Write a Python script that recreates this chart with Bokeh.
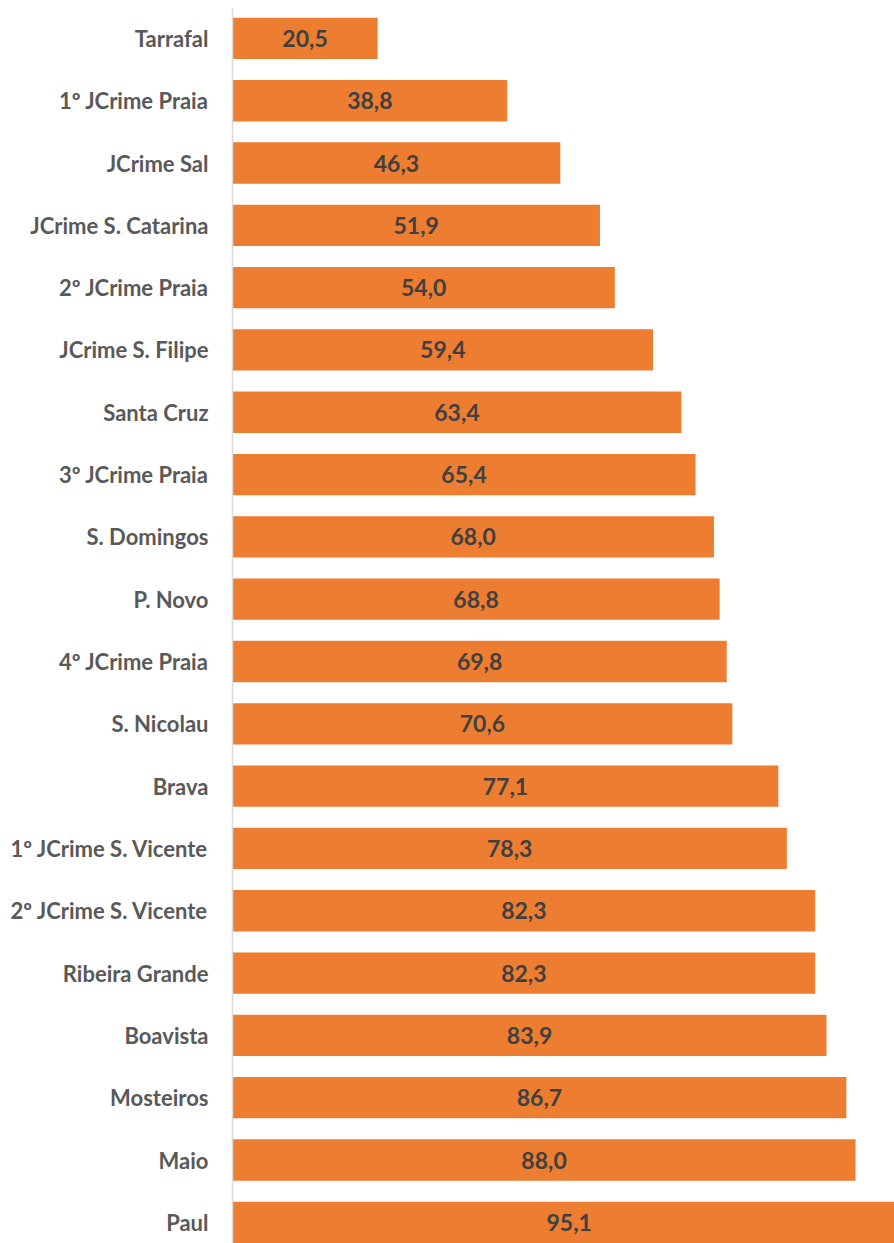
from bokeh.plotting import figure
from bokeh.models import ColumnDataSource, Range1d, FixedTicker
from bokeh.core.properties import value
from bokeh.embed import file_html
from bokeh.resources import INLINE

categories = ["Tarrafal", "1º JCrime Praia", "JCrime Sal", "JCrime S. Catarina",
              "2º JCrime Praia", "JCrime S. Filipe", "Santa Cruz", "3º JCrime Praia",
              "S. Domingos", "P. Novo", "4º JCrime Praia", "S. Nicolau", "Brava",
              "1º JCrime S. Vicente", "2º JCrime S. Vicente", "Ribeira Grande",
              "Boavista", "Mosteiros", "Maio", "Paul"]
values = [20.5, 38.8, 46.3, 51.9, 54.0, 59.4, 63.4, 65.4, 68.0, 68.8,
          69.8, 70.6, 77.1, 78.3, 82.3, 82.3, 83.9, 86.7, 88.0, 95.1]
value_labels = [f"{v:.1f}".replace(".", ",") for v in values]

pos = list(range(len(categories)))
src = ColumnDataSource(dict(
    y=pos, v=values, half=[v / 2 for v in values], lab=value_labels))

p = figure(width=894, height=1243, output_backend="svg", toolbar_location=None,
           x_range=Range1d(0, 93.5), y_range=Range1d(19.34, -0.48),
           min_border_left=232, min_border_right=0, min_border_top=8,
           min_border_bottom=0)

p.hbar(y="y", right="v", left=0, height=0.663, source=src,
       fill_color="#ED7D31", line_color=None)
p.text(x="half", y="y", text="lab", source=src, text_align="center",
       text_baseline="middle", text_font=value("Lato"), text_font_style="bold",
       text_font_size="23px", text_color="#404040")

p.xaxis.visible = False
p.xgrid.visible = False
p.ygrid.visible = False
p.outline_line_color = None

p.yaxis.ticker = FixedTicker(ticks=pos)
p.yaxis.major_label_overrides = {i: c for i, c in enumerate(categories)}
p.yaxis.major_tick_line_color = None
p.yaxis.minor_tick_line_color = None
p.yaxis.axis_line_color = "#d9d9d9"
p.yaxis.axis_line_width = 1.5
p.yaxis.major_label_standoff = 18
p.yaxis.major_label_text_font = "Lato"
p.yaxis.major_label_text_font_style = "bold"
p.yaxis.major_label_text_font_size = "22px"
p.yaxis.major_label_text_color = "#595959"

open("out.html", "w").write(file_html(p, INLINE))
